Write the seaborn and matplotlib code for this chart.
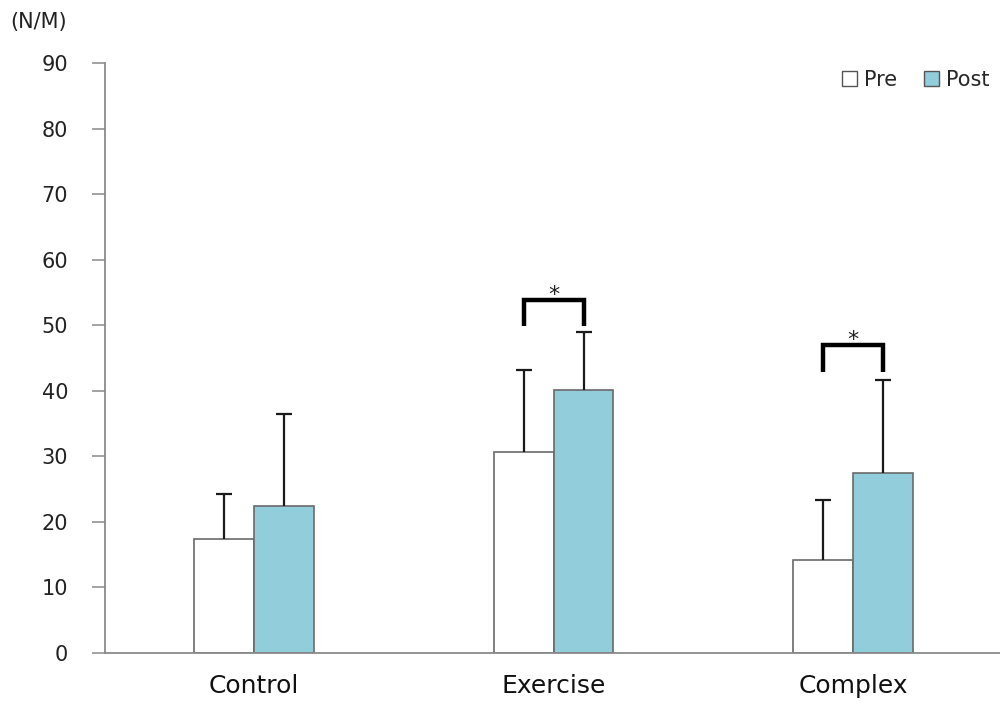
import matplotlib
matplotlib.use("Agg")
import matplotlib.pyplot as plt
import seaborn as sns
import pandas as pd
import numpy as np

# Grip strength (N/M) by group, before and after the program
groups = ["Control", "Exercise", "Complex"]
phases = ["Pre", "Post"]
pre_mean = [17.4, 30.7, 14.2]
pre_sd = [6.8, 12.5, 9.1]
post_mean = [22.4, 40.2, 27.4]
post_sd = [14.0, 8.7, 14.2]
y_ticks = [0, 10, 20, 30, 40, 50, 60, 70, 80, 90]
# significance brackets: (group index, bracket top, leg bottom)
sig_groups = [1, 2]
sig_top = [53.9, 47.0]
sig_leg = [49.9, 42.8]

df = pd.DataFrame({
    "group": groups * 2,
    "phase": ["Pre"] * 3 + ["Post"] * 3,
    "value": pre_mean + post_mean,
})
sds = {"Pre": pre_sd, "Post": post_sd}

sns.set_theme(style="white")
plt.rcParams["font.family"] = ["DejaVu Sans"]

fig = plt.figure(figsize=(10, 7.09), dpi=100)
ax = fig.add_axes([0.105, 0.079, 0.895, 0.832])

palette = {"Pre": "#ffffff", "Post": "#92cddc"}
sns.barplot(data=df, x="group", y="value", hue="phase", order=groups,
            hue_order=phases, palette=palette, width=0.4, errorbar=None,
            edgecolor="#6a6a6a", linewidth=1.2, saturation=1, ax=ax)

# upper-only error bars on each bar
centers = {}
for phase, cont in zip(phases, ax.containers):
    xs = [b.get_x() + b.get_width() / 2 for b in cont]
    hs = [b.get_height() for b in cont]
    centers[phase] = xs
    sd = sds[phase]
    _, caps, _ = ax.errorbar(xs, hs, yerr=[np.zeros(len(sd)), sd],
                             fmt="none", ecolor="#1a1a1a", elinewidth=1.6,
                             capsize=5.6, capthick=1.6, zorder=1)
    # drop the cap sitting on the bar top
    caps[0].set_visible(False)

# significance brackets
for gi, top, leg in zip(sig_groups, sig_top, sig_leg):
    x0 = centers["Pre"][gi]
    x1 = centers["Post"][gi]
    ax.plot([x0, x0, x1, x1], [leg, top, top, leg], color="black",
            lw=3.2, solid_joinstyle="miter", solid_capstyle="butt", zorder=4)
    ax.text((x0 + x1) / 2, top - 0.2, "*", ha="center", va="baseline",
            fontsize=16, color="#222222")

ax.set_ylim(0, 90)
ax.set_xlim(-0.497, 2.49)
ax.set_yticks(y_ticks)
ax.set_xlabel("")
ax.set_ylabel("")

for side in ["top", "right"]:
    ax.spines[side].set_visible(False)
for side in ["left", "bottom"]:
    ax.spines[side].set_color("#8a8a8a")
    ax.spines[side].set_linewidth(1.3)

ax.tick_params(axis="y", which="both", left=True, length=9.5, width=1.1,
               color="#8a8a8a", pad=17, labelsize=15, labelcolor="#222222")
ax.tick_params(axis="x", which="both", bottom=False, length=0, pad=15,
               labelsize=18, labelcolor="#111111")

fig.text(0.010, 0.969, "(N/M)", fontsize=15, color="#222222",
         ha="left", va="center")

leg = ax.legend(loc="upper right", bbox_to_anchor=(1.0, 1.006), ncol=2,
                frameon=False, fontsize=15, handlelength=0.7,
                handleheight=0.7, handletextpad=0.35, columnspacing=1.3,
                borderaxespad=0.1)
for h in leg.legend_handles:
    h.set_edgecolor("#555555")
    h.set_linewidth(1.0)

fig.savefig("out.png", dpi=100, facecolor="white")
